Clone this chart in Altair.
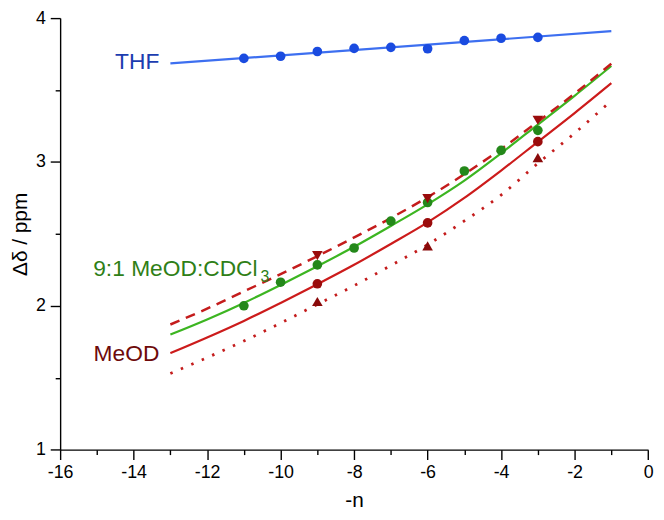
import altair as alt
import pandas as pd

# ---- data ----
n_pts = [-11, -10, -9, -8, -7, -6, -5, -4, -3]
thf_pts = [3.72, 3.735, 3.768, 3.79, 3.797, 3.787, 3.844, 3.86, 3.866]
mix_pts = [2.00, 2.164, 2.284, 2.402, 2.589, 2.718, 2.937, 3.080, 3.220]

n_meod = [-9, -6, -3]
meod_circle = [2.153, 2.576, 3.141]
meod_down = [2.349, 2.745, 3.290]
meod_up = [2.030, 2.417, 3.030]

thf_fit_n = [-13, -1]
thf_fit = [3.685, 3.909]

fit_n = [-13, -12, -11, -10, -9, -8, -7, -6, -5, -4, -3, -2, -1]
mix_fit = [1.80, 1.905, 2.02, 2.145, 2.275, 2.41, 2.555, 2.705, 2.87, 3.06, 3.26, 3.46, 3.667]
meod_fit = [1.671, 1.78, 1.895, 2.02, 2.15, 2.285, 2.43, 2.58, 2.75, 2.94, 3.14, 3.34, 3.548]
dash_fit = [1.87, 1.98, 2.10, 2.22, 2.345, 2.475, 2.61, 2.755, 2.915, 3.09, 3.28, 3.475, 3.683]
dot_fit = [1.53, 1.64, 1.755, 1.88, 2.01, 2.14, 2.28, 2.425, 2.59, 2.77, 2.99, 3.20, 3.426]

x_major = [-16, -14, -12, -10, -8, -6, -4, -2, 0]
x_minor = [-15, -13, -11, -9, -7, -5, -3, -1]
y_major = [1, 2, 3, 4]
y_minor = [1.5, 2.5, 3.5]

FONT = "Liberation Sans"

pts_df = pd.DataFrame({"n": n_pts, "thf": thf_pts, "mix": mix_pts})
meod_df = pd.DataFrame({"n": n_meod, "circ": meod_circle, "down": meod_down, "up": meod_up})
thf_fit_df = pd.DataFrame({"n": thf_fit_n, "v": thf_fit})
fit_df = pd.DataFrame({"n": fit_n, "mix": mix_fit, "meod": meod_fit, "dash": dash_fit, "dot": dot_fit})

xs = alt.Scale(domain=[-16, 0], nice=False, zero=False)
ys = alt.Scale(domain=[1, 4], nice=False, zero=False)

main_x = alt.Axis(values=x_major, orient="bottom", tickSize=10, tickWidth=1.4, tickColor="black",
                  domainColor="black", domainWidth=1.4, labelFont=FONT, labelFontSize=18,
                  labelColor="black", labelPadding=4, title="-n", titleFont=FONT, titleFontSize=21,
                  titleFontWeight="normal", titleColor="black", titlePadding=8, grid=False,
                  labelFlush=False, labelOverlap=False, labelExpr="'' + datum.value")
main_y = alt.Axis(values=y_major, orient="left", tickSize=10, tickWidth=1.4, tickColor="black",
                  domainColor="black", domainWidth=1.4, labelFont=FONT, labelFontSize=18,
                  labelColor="black", labelPadding=5, title="Δδ / ppm", titleFont=FONT, titleFontSize=21,
                  titleFontWeight="normal", titleColor="black", titlePadding=5, grid=False,
                  labelFlush=False, labelOverlap=False, labelExpr="'' + datum.value")
minor_x = alt.Axis(values=x_minor, orient="bottom", tickSize=5, tickWidth=1.4, tickColor="black",
                   domain=False, labels=False, title=None, grid=False)
minor_y = alt.Axis(values=y_minor, orient="left", tickSize=5, tickWidth=1.4, tickColor="black",
                   domain=False, labels=False, title=None, grid=False)

thf_line = alt.Chart(thf_fit_df).mark_line(color="#3d6ff0", strokeWidth=2.2).encode(
    x=alt.X("n:Q", scale=xs, axis=main_x), y=alt.Y("v:Q", scale=ys, axis=main_y))

base_fit = alt.Chart(fit_df)
mix_line = base_fit.mark_line(color="#3cb521", strokeWidth=2.2, interpolate="monotone").encode(
    x=alt.X("n:Q", scale=xs, axis=minor_x), y=alt.Y("mix:Q", scale=ys, axis=minor_y))
meod_line = base_fit.mark_line(color="#cc1b1b", strokeWidth=2.2, interpolate="monotone").encode(
    x=alt.X("n:Q", scale=xs, axis=None), y=alt.Y("meod:Q", scale=ys, axis=None))
dash_line = base_fit.mark_line(color="#c41c1c", strokeWidth=2.5, strokeDash=[10, 7], interpolate="monotone").encode(
    x=alt.X("n:Q", scale=xs, axis=None), y=alt.Y("dash:Q", scale=ys, axis=None))
dot_line = base_fit.mark_line(color="#c41c1c", strokeWidth=2.8, strokeDash=[2.5, 9], interpolate="monotone").encode(
    x=alt.X("n:Q", scale=xs, axis=None), y=alt.Y("dot:Q", scale=ys, axis=None))

thf_pts_l = alt.Chart(pts_df).mark_point(shape="circle", filled=True, opacity=1, size=95, color="#1a4be0").encode(
    x=alt.X("n:Q", scale=xs, axis=None), y=alt.Y("thf:Q", scale=ys, axis=None))
mix_pts_l = alt.Chart(pts_df).mark_point(shape="circle", filled=True, opacity=1, size=95, color="#24881a").encode(
    x=alt.X("n:Q", scale=xs, axis=None), y=alt.Y("mix:Q", scale=ys, axis=None))
down_l = alt.Chart(meod_df).mark_point(shape="triangle-down", filled=True, opacity=1, size=115, color="#9a0c0c").encode(
    x=alt.X("n:Q", scale=xs, axis=None), y=alt.Y("down:Q", scale=ys, axis=None))
circ_l = alt.Chart(meod_df).mark_point(shape="circle", filled=True, opacity=1, size=95, color="#9a0c0c").encode(
    x=alt.X("n:Q", scale=xs, axis=None), y=alt.Y("circ:Q", scale=ys, axis=None))
up_l = alt.Chart(meod_df).mark_point(shape="triangle-up", filled=True, opacity=1, size=115, color="#8a0a0a").encode(
    x=alt.X("n:Q", scale=xs, axis=None), y=alt.Y("up:Q", scale=ys, axis=None))

def label(text, xv, yv, color, size=23, align="right"):
    return alt.Chart(pd.DataFrame({"t": [text]})).mark_text(
        font=FONT, fontSize=size, color=color, align=align, baseline="middle").encode(
        x=alt.X("xv:Q", scale=xs, axis=None), y=alt.Y("yv:Q", scale=ys, axis=None), text="t:N"
    ).transform_calculate(xv=str(xv), yv=str(yv))

thf_lab = label("THF", -13.3, 3.693, "#1c3db0")
meod_lab = label("MeOD", -13.3, 1.662, "#6e0a0a")
mix_lab = label("9:1 MeOD:CDCl", -15.1, 2.255, "#2f7f17", align="left")
mix_sub = label("3", -10.55, 2.20, "#2f7f17", size=16, align="left")

chart = alt.layer(
    thf_line, mix_line, meod_line, dash_line, dot_line,
    thf_pts_l, mix_pts_l, down_l, circ_l, up_l,
    thf_lab, meod_lab, mix_lab, mix_sub
).resolve_axis(x="independent", y="independent").properties(
    width=594.3, height=436.2,
    autosize=alt.AutoSizeParams(type="none"),
    padding={"left": 52.7, "top": 7.5, "right": 8, "bottom": 60},
).configure_view(stroke=None)

chart.save("out.html", embed_options={"renderer": "svg", "actions": False})
